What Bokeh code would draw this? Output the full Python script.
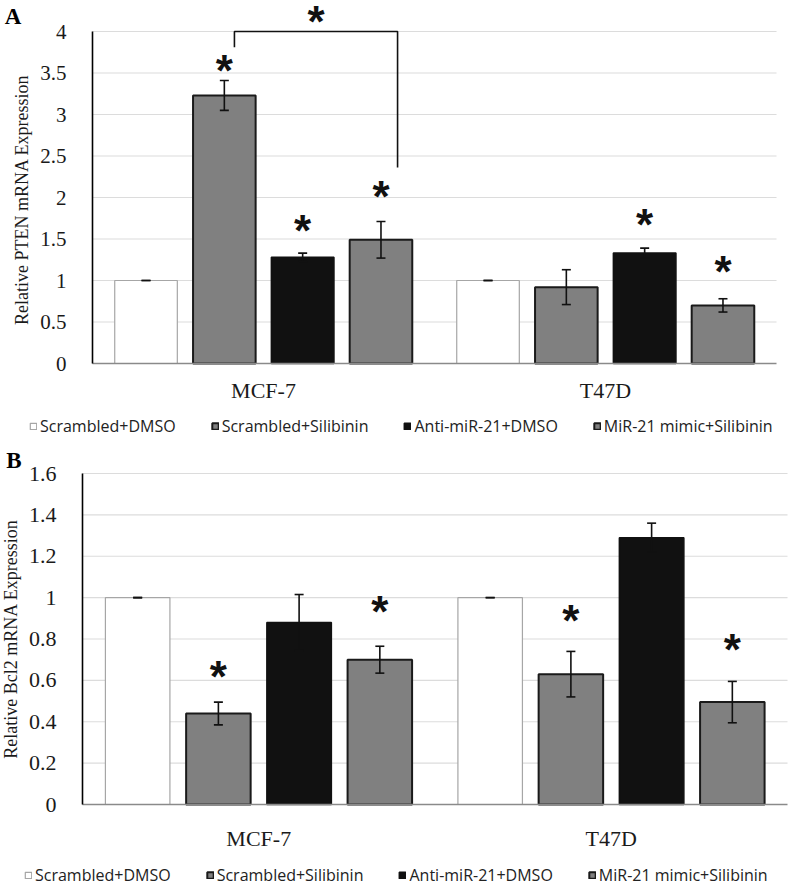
from bokeh.plotting import figure
from bokeh.models import (ColumnDataSource, Whisker, TeeHead, LabelSet, Label, Legend, LegendItem,
                          FixedTicker, NumeralTickFormatter)
from bokeh.core.properties import value
from bokeh.layouts import column
from bokeh.embed import file_html
from bokeh.resources import INLINE

# ---------------- data ----------------
cell_lines = ["MCF-7", "T47D"]
treatments = ["Scrambled+DMSO", "Scrambled+Silibinin", "Anti-miR-21+DMSO", "MiR-21 mimic+Silibinin"]

# Panel A: PTEN
pten_scr_dmso = [1.00, 1.00]
pten_scr_dmso_err = [0.0, 0.0]
pten_scr_sil = [3.23, 0.92]
pten_scr_sil_err = [0.18, 0.21]
pten_anti_dmso = [1.28, 1.33]
pten_anti_dmso_err = [0.05, 0.06]
pten_mimic_sil = [1.49, 0.70]
pten_mimic_sil_err = [0.22, 0.08]
pten_ticks = [0, 0.5, 1, 1.5, 2, 2.5, 3, 3.5, 4]

# significance stars (cell line index, treatment index, height)
pten_star_cell = [0, 0, 0, 1, 1]
pten_star_trt = [1, 2, 3, 2, 3]
pten_star_y = [3.60, 1.67, 2.09, 1.75, 1.18]
# bracket between MCF-7 Scrambled+Silibinin and MiR-21 mimic+Silibinin
pten_bracket_x = [-0.085, 0.392]
pten_bracket_top = 4.0
pten_bracket_ends = [3.81, 2.36]
pten_bracket_star_y = 4.19

# Panel B: Bcl2
bcl2_scr_dmso = [1.00, 1.00]
bcl2_scr_dmso_err = [0.0, 0.0]
bcl2_scr_sil = [0.44, 0.63]
bcl2_scr_sil_err = [0.055, 0.11]
bcl2_anti_dmso = [0.88, 1.29]
bcl2_anti_dmso_err = [0.135, 0.07]
bcl2_mimic_sil = [0.70, 0.495]
bcl2_mimic_sil_err = [0.065, 0.10]
bcl2_ticks = [0, 0.2, 0.4, 0.6, 0.8, 1.0, 1.2, 1.4, 1.6]

bcl2_star_cell = [0, 0, 1, 1]
bcl2_star_trt = [1, 3, 1, 3]
bcl2_star_y = [0.65, 0.96, 0.92, 0.78]

# ---------------- style ----------------
BAR_STEP = 0.229
BAR_WIDTH = 0.183
FILLS = ["#ffffff", "#808080", "#111111", "#808080"]
LINES = ["#a6a6a6", "#1a1a1a", "#111111", "#1a1a1a"]
LWS = [1.2, 2.0, 1.5, 2.0]
SERIF = "Liberation Serif"
FIG_W = 789
STAR_SIZE = "44px"
STAR_DY = -6


def offset(i):
    return (i - 1.5) * BAR_STEP


class Geo:
    """pixel layout of one panel (page pixels)"""
    def __init__(self, fig_top, height, axis_x, right_x, zero_y, top_y, y_top):
        self.fig_top, self.height = fig_top, height
        self.px_x = (right_x - axis_x) / 2.0
        self.px_y = (zero_y - top_y) / y_top
        self.x_start = -0.5 - axis_x / self.px_x
        self.x_end = 1.5 + (FIG_W - right_x) / self.px_x
        self.y_start = -(fig_top + height - zero_y) / self.px_y
        self.y_end = y_top + (top_y - fig_top) / self.px_y
        self.axis_x, self.zero_y = axis_x, zero_y

    def data_x(self, sx):
        return -0.5 + (sx - self.axis_x) / self.px_x

    def data_y(self, sy):
        return (self.zero_y - sy) / self.px_y


def star_set(xs, ys):
    src = ColumnDataSource(dict(x=xs, y=ys, text=["*"] * len(ys)))
    return LabelSet(x="x", y="y", text="text", source=src,
                    text_font=value("Liberation Sans"), text_font_style="bold",
                    text_font_size=STAR_SIZE, text_align="center", text_baseline="middle",
                    y_offset=STAR_DY, text_color="#111111")


def make_panel(geo, means, errs, ticks, y_top, ylabel, star_cell, star_trt, star_y,
               tick_size, xstand, ystand, ylab_stand, legend_loc, letter, letter_xy):
    p = figure(width=FIG_W, height=geo.height, x_range=(geo.x_start, geo.x_end),
               y_range=(geo.y_start, geo.y_end), output_backend="svg", toolbar_location=None,
               min_border_left=0, min_border_right=0, min_border_top=0, min_border_bottom=0)
    p.outline_line_color = None
    p.background_fill_color = "white"
    p.xgrid.visible = False
    p.ygrid.visible = False

    # horizontal gridlines from the tick list
    gticks = [t for t in ticks if t > 0]
    p.segment(x0=[-0.5] * len(gticks), x1=[1.5] * len(gticks), y0=gticks, y1=gticks,
              line_color="#dcdcdc", line_width=1.2, level="underlay")

    yax = p.yaxis[0]
    yax.fixed_location = -0.5
    yax.bounds = (0, y_top)
    yax.ticker = FixedTicker(ticks=ticks)
    yax.formatter = NumeralTickFormatter(format="0.[0]")
    yax.axis_line_color = "#000000"
    yax.axis_line_width = 1.6
    yax.major_tick_line_color = None
    yax.minor_tick_line_color = None
    yax.major_label_text_font = SERIF
    yax.major_label_text_font_size = tick_size
    yax.major_label_text_color = "#1a1a1a"
    yax.major_label_standoff = ystand
    yax.axis_label = ylabel
    yax.axis_label_text_font = SERIF
    yax.axis_label_text_font_size = "18px"
    yax.axis_label_text_font_style = "normal"
    yax.axis_label_text_color = "#1a1a1a"
    yax.axis_label_standoff = ylab_stand

    xax = p.xaxis[0]
    xax.fixed_location = 0
    xax.bounds = (-0.5, 1.5)
    xax.ticker = FixedTicker(ticks=list(range(len(cell_lines))))
    xax.major_label_overrides = {i: c for i, c in enumerate(cell_lines)}
    xax.axis_line_color = "#8a8a8a"
    xax.axis_line_width = 1.5
    xax.major_tick_line_color = None
    xax.minor_tick_line_color = None
    xax.major_label_text_font = SERIF
    xax.major_label_text_font_size = "22px"
    xax.major_label_text_color = "#1a1a1a"
    xax.major_label_standoff = xstand

    renderers = []
    wx, wu, wl = [], [], []
    for i, (m, e) in enumerate(zip(means, errs)):
        xs = [c + offset(i) for c in range(len(cell_lines))]
        src = ColumnDataSource(dict(x=xs, top=m))
        r = p.vbar(x="x", top="top", width=BAR_WIDTH, bottom=0, source=src,
                   fill_color=FILLS[i], line_color=LINES[i], line_width=LWS[i])
        renderers.append(r)
        for x, mv, ev in zip(xs, m, e):
            wx.append(x)
            wu.append(mv + ev)
            wl.append(mv - ev)

    wsrc = ColumnDataSource(dict(x=wx, upper=wu, lower=wl))
    w = Whisker(source=wsrc, base="x", upper="upper", lower="lower", dimension="height",
                line_color="#111111", line_width=1.6, level="overlay",
                upper_head=TeeHead(size=9, line_color="#111111", line_width=1.6),
                lower_head=TeeHead(size=9, line_color="#111111", line_width=1.6))
    p.add_layout(w)

    p.add_layout(star_set([c + offset(t) for c, t in zip(star_cell, star_trt)], star_y))

    legend = Legend(items=[LegendItem(label=t, renderers=[r]) for t, r in zip(treatments, renderers)],
                    orientation="horizontal", location=legend_loc,
                    glyph_width=8, glyph_height=8, label_standoff=3, spacing=35,
                    padding=0, margin=0, border_line_color=None, background_fill_alpha=0,
                    label_text_font="Open Sans", label_text_font_size="16px",
                    label_text_color="#222222", label_height=20)
    p.add_layout(legend)

    p.add_layout(Label(x=geo.data_x(letter_xy[0]), y=geo.data_y(letter_xy[1]), text=letter,
                       text_font=SERIF, text_font_style="bold", text_font_size="23px",
                       text_align="center", text_baseline="middle", text_color="#000000"))
    return p


geoA = Geo(fig_top=0, height=444, axis_x=92, right_x=776, zero_y=363, top_y=31, y_top=4)
pA = make_panel(geoA,
                [pten_scr_dmso, pten_scr_sil, pten_anti_dmso, pten_mimic_sil],
                [pten_scr_dmso_err, pten_scr_sil_err, pten_anti_dmso_err, pten_mimic_sil_err],
                pten_ticks, 4, "Relative  PTEN mRNA Expression",
                pten_star_cell, pten_star_trt, pten_star_y,
                "21px", 8, 20, 5, (29, 7), "A", (12.5, 16))

# significance bracket
bx0, bx1 = pten_bracket_x
pA.multi_line(xs=[[bx0, bx0, bx1, bx1]],
              ys=[[pten_bracket_ends[0], pten_bracket_top, pten_bracket_top, pten_bracket_ends[1]]],
              line_color="#111111", line_width=1.6)
pA.add_layout(star_set([(bx0 + bx1) / 2], [pten_bracket_star_y]))

geoB = Geo(fig_top=444, height=444, axis_x=82, right_x=787, zero_y=804, top_y=473, y_top=1.6)
pB = make_panel(geoB,
                [bcl2_scr_dmso, bcl2_scr_sil, bcl2_anti_dmso, bcl2_mimic_sil],
                [bcl2_scr_dmso_err, bcl2_scr_sil_err, bcl2_anti_dmso_err, bcl2_mimic_sil_err],
                bcl2_ticks, 1.6, "Relative Bcl2 mRNA Expression",
                bcl2_star_cell, bcl2_star_trt, bcl2_star_y,
                "22px", 15, 20, 5, (24, 2), "B", (13.5, 460))

layout = column(pA, pB)
open("out.html", "w").write(file_html(layout, INLINE))
